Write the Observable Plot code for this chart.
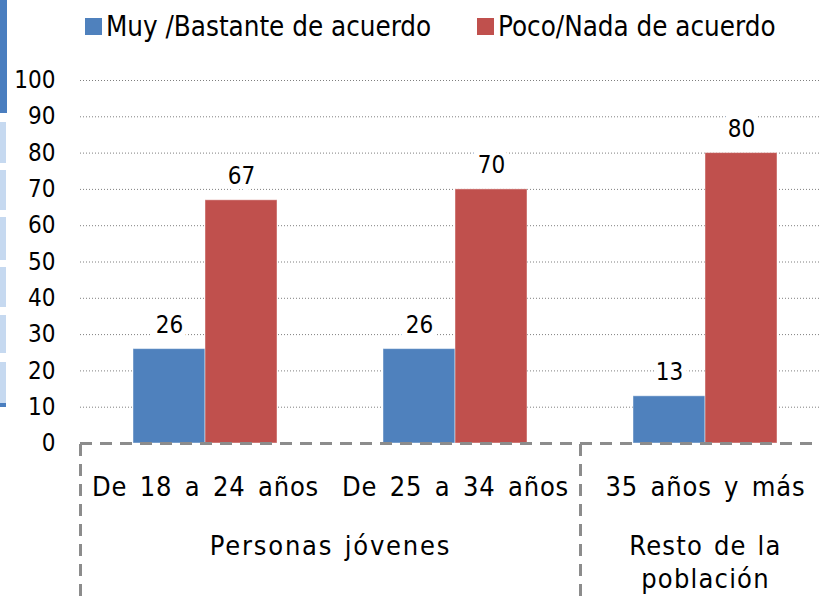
<!DOCTYPE html>
<html><head><meta charset="utf-8">
<script src="https://cdn.jsdelivr.net/npm/d3@7"></script>
<script src="https://cdn.jsdelivr.net/npm/@observablehq/plot@0.6"></script>
<style>
html,body{margin:0;padding:0;background:#fff;overflow:hidden;}
#wrap{position:relative;width:819px;height:596px;font-family:"DejaVu Sans Condensed","DejaVu Sans",sans-serif;}
#wrap svg{position:absolute;left:0;top:0;}
.leg{position:absolute;top:12px;height:28px;display:flex;align-items:center;font-size:27.5px;color:#000;white-space:nowrap;}
.sw{width:17px;height:17px;margin-right:4px;}
.deco{position:absolute;left:0;}
</style></head><body>
<div id="wrap"></div>
<script>
const categories = ["De 18 a 24 años", "De 25 a 34 años", "35 años y más"];
const seriesNames = ["Muy /Bastante de acuerdo", "Poco/Nada de acuerdo"];
const acuerdo = [26, 26, 13];
const desacuerdo = [67, 70, 80];
const yTicks = [0, 10, 20, 30, 40, 50, 60, 70, 80, 90, 100];
const superGroups = ["Personas jóvenes", "Resto de la\npoblación"];
const superFirst = ["De 18 a 24 años", "35 años y más"];
const superSpan = [2, 1];
const colors = ["#4F81BD", "#C0504D"];

const rows = [];
categories.forEach((c, i) => {
  rows.push({group: c, serie: seriesNames[0], value: acuerdo[i]});
  rows.push({group: c, serie: seriesNames[1], value: desacuerdo[i]});
});
const superRows = superGroups.map((label, i) => ({label, first: superFirst[i], span: superSpan[i]}));

const W = 819, H = 596;
const xRange = [80, 830];
const step = (xRange[1] - xRange[0]) / categories.length;
const barW = 72;
const font = "DejaVu Sans Condensed, DejaVu Sans, sans-serif";
const dashed = {stroke: "#8c8c8c", strokeWidth: 3, strokeDasharray: "12,8"};

const chart = Plot.plot({
  width: W, height: H,
  marginLeft: 80, marginRight: 0, marginTop: 0, marginBottom: 0,
  style: {fontFamily: font, fontSize: "24px", color: "#000", background: "transparent", overflow: "hidden"},
  x: {type: "band", domain: categories, range: xRange, padding: 0, axis: null},
  y: {domain: [0, 100], range: [443, 80], axis: null},
  color: {domain: seriesNames, range: colors},
  marks: [
    Plot.gridY(yTicks.filter(t => t > 0), {stroke: "#7f7f7f", strokeOpacity: 1, strokeWidth: 1, strokeDasharray: "1,2"}),
    Plot.text(yTicks, {y: d => d, text: d => String(d), frameAnchor: "left", textAnchor: "end", dx: -25, fontSize: 24, fill: "#000"}),
    Plot.barY(rows.filter(d => d.serie === seriesNames[0]), {
      x: "group", y: "value", fill: "serie", stroke: "#fff", strokeOpacity: 0.45, strokeWidth: 1,
      insetLeft: (step / 2) - barW, insetRight: step / 2
    }),
    Plot.barY(rows.filter(d => d.serie === seriesNames[1]), {
      x: "group", y: "value", fill: "serie", stroke: "#fff", strokeOpacity: 0.45, strokeWidth: 1,
      insetLeft: step / 2, insetRight: (step / 2) - barW
    }),
    Plot.text(rows.filter(d => d.serie === seriesNames[0]), {
      x: "group", y: "value", text: d => String(d.value), dx: -barW / 2, dy: -24,
      fontSize: 24, fill: "#000", stroke: "#fff", strokeWidth: 12, paintOrder: "stroke"
    }),
    Plot.text(rows.filter(d => d.serie === seriesNames[1]), {
      x: "group", y: "value", text: d => String(d.value), dx: barW / 2, dy: -24,
      fontSize: 24, fill: "#000", stroke: "#fff", strokeWidth: 12, paintOrder: "stroke"
    }),
    Plot.ruleY([0], dashed),
    Plot.ruleX(superRows, {x: "first", dx: -step / 2, insetTop: 444, ...dashed}),
    Plot.text(categories, {x: d => d, y: 0, dy: 44, fontSize: 27, fill: "#000"}),
    Plot.text(superRows.filter(d => d.span === 2), {x: "first", y: 0, text: "label", dx: step / 2, dy: 103, fontSize: 27, fill: "#000"}),
    Plot.text(superRows.filter(d => d.span === 1), {x: "first", y: 0, text: "label", dy: 117, lineHeight: 1.22, fontSize: 27, fill: "#000"})
  ]
});

// spacing on the category-axis labels, as in the original
const catSet = new Set(categories);
const superSet = new Set(superGroups.flatMap(s => s.split("\n")).concat(superGroups));
d3.select(chart).selectAll("text").each(function() {
  const t = this.textContent;
  if (catSet.has(t)) d3.select(this).style("letter-spacing", "0.8px").style("word-spacing", "4px");
  else if (superSet.has(t)) d3.select(this).style("letter-spacing", "1.8px").style("word-spacing", "2px");
});
d3.select(chart).selectAll("tspan").each(function() {
  if (superSet.has(this.textContent)) d3.select(this.parentNode).style("letter-spacing", "1.2px").style("word-spacing", "2px");
});

const wrap = document.getElementById("wrap");
wrap.appendChild(chart);

// slide edge decoration
const deco = [[0, 113, "#4a7ebf", 7]];
[[122,163],[170,210],[217,260],[267,307],[315,353],[362,403]].forEach(([a,b]) => deco.push([a, b - a, "#c6d9f0", 6]));
deco.push([403, 4, "#4a7ebf", 6]);
deco.forEach(([top, h, c, w]) => {
  const d = document.createElement("div");
  d.className = "deco";
  d.style.cssText = `top:${top}px;height:${h}px;width:${w}px;background:${c};`;
  wrap.appendChild(d);
});

// legend
const legendLeft = [85, 477];
seriesNames.forEach((s, i) => {
  const item = document.createElement("div");
  item.className = "leg";
  item.style.left = legendLeft[i] + "px";
  const sw = document.createElement("span");
  sw.className = "sw";
  sw.style.background = colors[i];
  const t = document.createElement("span");
  t.textContent = s;
  item.appendChild(sw);
  item.appendChild(t);
  wrap.appendChild(item);
});
</script>
</body></html>
